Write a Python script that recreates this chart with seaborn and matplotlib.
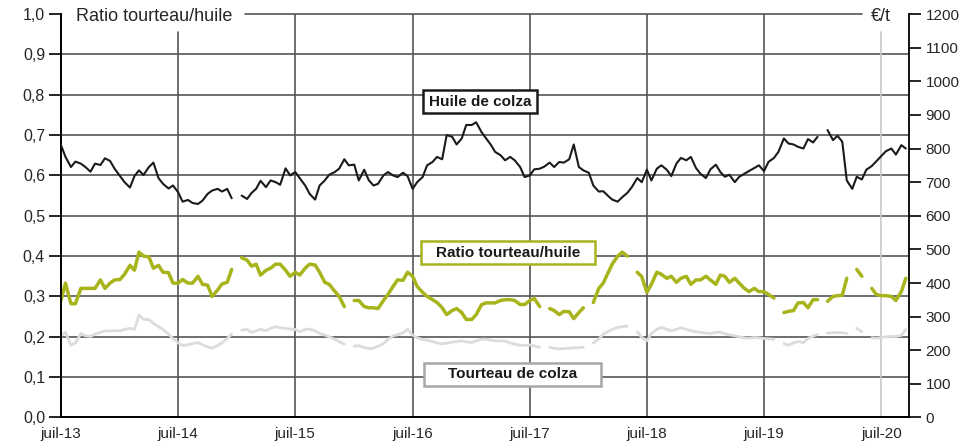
import numpy as np
import pandas as pd
import matplotlib
matplotlib.use("Agg")
import matplotlib.pyplot as plt
import matplotlib.patches as mpatches
import seaborn as sns

# semi-monthly observations, Jul 2013 -> Sep 2020
dates = pd.date_range("2013-07-01", "2020-09-15", freq="SMS")
nan = np.nan

# rapeseed oil, EUR/t (right axis)
huile = [
    810, 775, 745, 761, 755, 745, 731, 755, 751, 771,
    763, 740, 718, 700, 684, 718, 735, 721, 745, 758,
    712, 695, 681, 690, 670, 642, 647, 638, 635, 645,
    665, 675, 680, 672, 680, 652, nan, 660, 650, 668,
    680, 704, 685, 705, 700, 692, 741, 720, 730, 712,
    690, 665, 648, 690, 705, 722, 730, 740, 768, 750,
    752, 705, 737, 706, 690, 695, 720, 730, 720, 715,
    728, 718, 680, 700, 715, 750, 760, 775, 768, 840,
    835, 812, 830, 870, 870, 878, 848, 830, 812, 790,
    780, 765, 775, 765, 745, 715, 720, 738, 740, 746,
    758, 745, 760, 758, 768, 812, 745, 735, 728, 690,
    672, 673, 660, 648, 642, 655, 668, 685, 712, 700,
    737, 705, 740, 750, 737, 718, 755, 772, 765, 775,
    742, 725, 712, 738, 752, 730, 716, 722, 700, 716,
    725, 733, 742, 750, 733, 760, 772, 790, 830, 815,
    812, 805, 800, 828, 818, 835, nan, 855, 825, 838,
    820, 705, 680, 716, 708, 737, 748, 762, 778, 792,
    800, 782, 810, 800,
]

# meal / oil price ratio (left axis)
ratio = [
    0.29, 0.333, 0.282, 0.282, 0.32, 0.32, 0.32, 0.32, 0.341, 0.32,
    0.333, 0.341, 0.342, 0.355, 0.377, 0.365, 0.41, 0.40, 0.398, 0.37,
    0.377, 0.36, 0.359, 0.333, 0.333, 0.342, 0.333, 0.333, 0.35, 0.33,
    0.328, 0.30, 0.316, 0.331, 0.335, 0.367, nan, 0.396, 0.39, 0.375,
    0.38, 0.353, 0.365, 0.37, 0.38, 0.38, 0.365, 0.35, 0.36, 0.353,
    0.37, 0.38, 0.378, 0.36, 0.335, 0.33, 0.313, 0.30, 0.275, nan,
    0.29, 0.29, 0.275, 0.272, 0.272, 0.27, 0.29, 0.305, 0.325, 0.341,
    0.34, 0.36, 0.35, 0.325, 0.31, 0.30, 0.292, 0.285, 0.272, 0.255,
    0.265, 0.27, 0.26, 0.243, 0.243, 0.255, 0.28, 0.284, 0.284, 0.284,
    0.29, 0.292, 0.292, 0.29, 0.28, 0.28, 0.29, 0.295, 0.275, nan,
    0.27, 0.265, 0.255, 0.263, 0.262, 0.245, 0.26, 0.272, nan, 0.285,
    0.32, 0.333, 0.357, 0.38, 0.40, 0.41, 0.40, nan, 0.36, 0.349,
    0.31, 0.33, 0.36, 0.355, 0.345, 0.35, 0.335, 0.345, 0.35, 0.33,
    0.341, 0.341, 0.35, 0.341, 0.33, 0.353, 0.35, 0.335, 0.345, 0.333,
    0.32, 0.312, 0.32, 0.312, 0.312, 0.305, 0.296, nan, 0.26, 0.263,
    0.265, 0.284, 0.285, 0.272, 0.292, 0.292, nan, 0.288, 0.30, 0.302,
    0.303, 0.345, nan, 0.367, 0.35, nan, 0.32, 0.305, 0.302, 0.302,
    0.30, 0.29, 0.312, 0.345,
]

# rapeseed meal, EUR/t (right axis)
tourteau = [
    243, 253, 215, 222, 250, 243, 241, 248, 253, 258,
    257, 258, 258, 262, 265, 262, 305, 292, 291, 280,
    270, 262, 248, 235, 222, 214, 216, 220, 223, 216,
    210, 206, 214, 222, 235, 248, nan, 260, 262, 253,
    258, 262, 258, 265, 270, 267, 265, 263, 262, 255,
    262, 263, 258, 250, 245, 240, 233, 226, 218, nan,
    212, 214, 208, 205, 206, 212, 220, 232, 243, 246,
    252, 262, 245, 237, 232, 230, 226, 222, 219, 221,
    224, 226, 228, 225, 223, 228, 233, 233, 230, 228,
    228, 227, 222, 218, 215, 214, 216, 213, 209, nan,
    209, 206, 204, 205, 206, 207, 208, 209, nan, 222,
    233, 248, 255, 262, 268, 270, 272, nan, 255, 238,
    228, 250, 262, 268, 262, 258, 262, 267, 262, 258,
    255, 253, 251, 250, 253, 254, 249, 246, 243, 240,
    237, 236, 238, 237, 235, 234, 233, nan, 220, 215,
    222, 226, 223, 235, 242, 247, nan, 251, 252, 253,
    252, 250, nan, 265, 255, nan, 237, 236, 238, 240,
    241, 241, 244, 262,
]

july_years = list(range(2013, 2021))
xlabels = [f"juil-{y % 100}" for y in july_years]
left_ticks = [i / 10 for i in range(11)]
right_ticks = list(range(0, 1201, 100))

BLACK = "#1a1a1a"
GREEN = "#a8b41c"
LGREY = "#dcdcdc"
GRID = "#555555"


def to_segments(values):
    """long frame with a segment id so that missing weeks leave gaps"""
    s = pd.Series(values, dtype=float)
    df = pd.DataFrame({"date": dates, "val": s.values,
                       "seg": s.isna().cumsum().values})
    return df.dropna()


sns.set_style("white")
plt.rcParams["font.family"] = ["Liberation Sans", "DejaVu Sans"]

fig = plt.figure(figsize=(9.65, 4.45), dpi=100)
ax = fig.add_axes([0.0632, 0.0618, 0.8788, 0.9067])
ax2 = ax.twinx()

sns.lineplot(data=to_segments(ratio), x="date", y="val", units="seg",
             estimator=None, color=GREEN, lw=2.5, ax=ax, zorder=3)
sns.lineplot(data=to_segments(tourteau), x="date", y="val", units="seg",
             estimator=None, color=LGREY, lw=2.0, ax=ax2, zorder=2)
sns.lineplot(data=to_segments(huile), x="date", y="val", units="seg",
             estimator=None, color=BLACK, lw=1.5, ax=ax2, zorder=3)

july = [pd.Timestamp(f"{y}-07-01") for y in july_years]
ax.set_xlim(pd.Timestamp("2013-07-01"), pd.Timestamp("2020-09-25"))
ax.set_ylim(0, 1)
ax2.set_ylim(0, 1200)

# grid
for v in left_ticks[1:-1]:
    ax.axhline(v, color=GRID, lw=1.2, zorder=0)
for d in july[1:-1]:
    top = 0.955 if d.year == 2014 else 1.0
    ax.axvline(d, ymax=top, color=GRID, lw=1.2, zorder=0)
ax.axvline(july[-1], ymax=0.955, color="#c8c8c8", lw=1.2, zorder=0)
ax.axhline(1.0, xmin=0.217, xmax=0.945, color=GRID, lw=1.2, clip_on=False)

ax.set_xticks(july)
ax.set_xticklabels(xlabels)
ax.set_yticks(left_ticks)
ax.set_yticklabels([f"{v:.1f}".replace(".", ",") for v in left_ticks])
ax2.set_yticks(right_ticks)
ax2.set_yticklabels([str(v) for v in right_ticks])

ax.tick_params(axis="x", length=0, pad=7, labelsize=11)
ax.tick_params(axis="y", direction="out", length=8.5, width=1.2,
               pad=3, labelsize=11.5, color="black")
ax2.tick_params(axis="y", direction="out", length=8.5, width=1.2,
                pad=3.5, labelsize=11, color="black")
for a in (ax, ax2):
    a.set_xlabel("")
    a.set_ylabel("")
    a.spines["top"].set_visible(False)
    for s in ("left", "bottom", "right"):
        a.spines[s].set_color("black")
        a.spines[s].set_linewidth(1.3)
ax.spines["right"].set_visible(False)

ax.text(0.0177, 0.983, "Ratio tourteau/huile", transform=ax.transAxes,
        fontsize=13, ha="left", va="baseline")
ax2.text(0.9548, 0.983, "€/t", transform=ax2.transAxes,
         fontsize=13, ha="left", va="baseline")

# series labels in boxes
boxes = [
    ("Huile de colza", 0.4272, 0.754, 0.1344, BLACK),
    ("Ratio tourteau/huile", 0.4245, 0.3804, 0.2052, GREEN),
    ("Tourteau de colza", 0.428, 0.0788, 0.2087, "#a6a6a6"),
]
for label, x0, y0, w, ec in boxes:
    h = 0.057
    ax2.add_patch(mpatches.Rectangle((x0, y0), w, h, transform=ax2.transAxes,
                                     facecolor="white", edgecolor=ec,
                                     lw=1.8, zorder=5))
    ax2.text(x0 + w / 2, y0 + h / 2, label, transform=ax2.transAxes,
             ha="center", va="center", fontsize=11, fontweight="bold",
             color="#1a1a1a", zorder=6)

plt.savefig("out.png", dpi=100)
plt.close()
